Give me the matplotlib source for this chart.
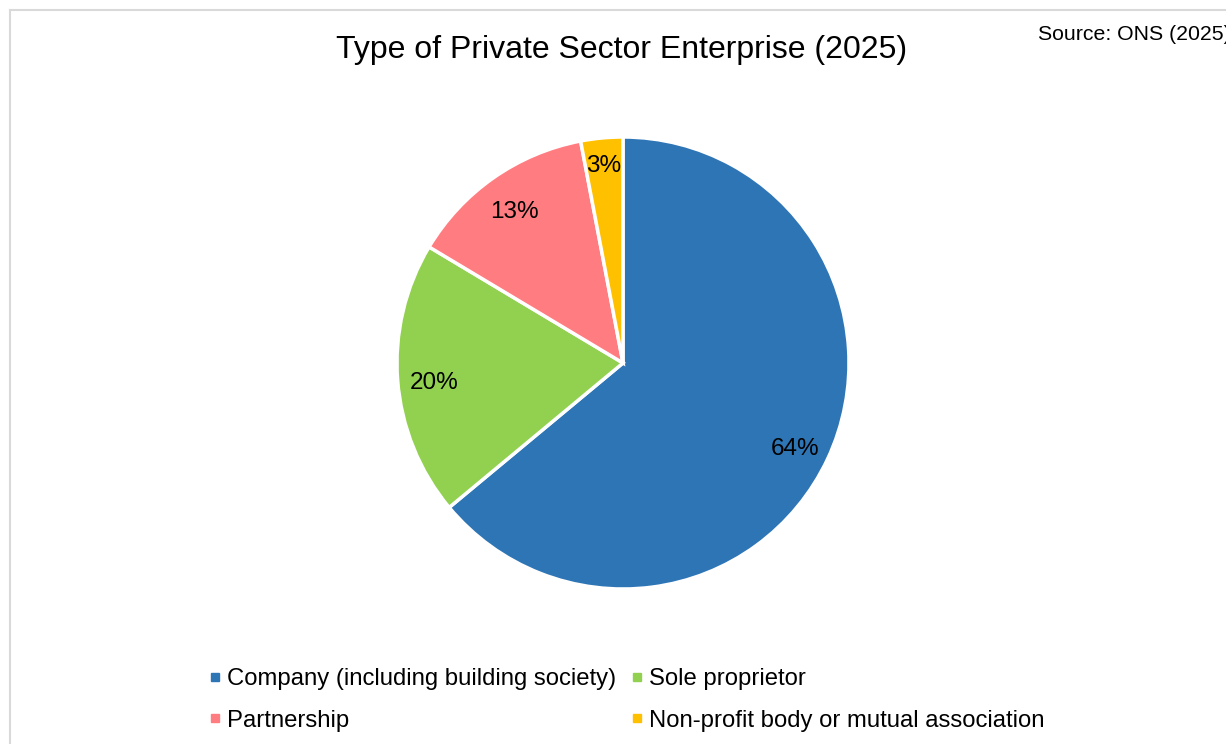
import matplotlib.pyplot as plt
from matplotlib.lines import Line2D

plt.rcParams['font.family'] = ['Liberation Sans', 'DejaVu Sans']

# Data (share of private sector enterprises, %)
categories = ['Company (including building society)', 'Sole proprietor',
              'Partnership', 'Non-profit body or mutual association']
shares = [63.9, 19.6, 13.4, 3.0]
colors = ['#2E75B6', '#92D050', '#FF7C80', '#FFC000']

W, H = 1226, 744
fig = plt.figure(figsize=(W / 100, H / 100), dpi=100)

# light grey chart border (cut off on the right and bottom like the original)
fig.add_artist(Line2D([10 / W, 10 / W], [0, 1 - 10 / H], transform=fig.transFigure,
                      color='#D9D9D9', lw=1.5))
fig.add_artist(Line2D([10 / W, 1], [1 - 10 / H, 1 - 10 / H], transform=fig.transFigure,
                      color='#D9D9D9', lw=1.5))

# pie centred at (623, 363) px with radius 226 px
cx, cy, r = 623, 363, 226
ax = fig.add_axes([(cx - r) / W, (H - cy - r) / H, 2 * r / W, 2 * r / H])
wedges, texts, autotexts = ax.pie(
    shares, colors=colors, startangle=90, counterclock=False,
    autopct='%.0f%%', pctdistance=0.84,
    wedgeprops=dict(edgecolor='white', linewidth=2.5),
    textprops=dict(fontsize=17.5, color='black'))
# the small slice label sits a little closer to the rim
x, y = autotexts[3].get_position()
autotexts[3].set_position((x * 0.90 / 0.84, y * 0.90 / 0.84))
# labels sit a few pixels lower than the geometric centre
for t in autotexts:
    x, y = t.get_position()
    t.set_position((x, y - 5 / r))
ax.set_xlim(-1, 1)
ax.set_ylim(-1, 1)
ax.set_aspect('equal')
ax.axis('off')

fig.text(622 / W, 1 - 50 / H, 'Type of Private Sector Enterprise (2025)',
         ha='center', va='center', fontsize=23)
fig.text(1038 / W, 1 - 35 / H, 'Source: ONS (2025)', ha='left', va='center',
         fontsize=15.3)

# legend is filled row by row in the original, matplotlib fills by column
order = [0, 2, 1, 3]
handles = [Line2D([], [], marker='s', linestyle='none', markersize=6,
                  color=colors[i]) for i in order]
fig.legend(handles, [categories[i] for i in order], ncol=2,
           loc='center', bbox_to_anchor=(627 / W, 1 - 700 / H),
           frameon=False, fontsize=17.2, handlelength=0.4, handletextpad=0.3,
           columnspacing=0.67, labelspacing=0.8)

fig.savefig('out.png', dpi=100)
